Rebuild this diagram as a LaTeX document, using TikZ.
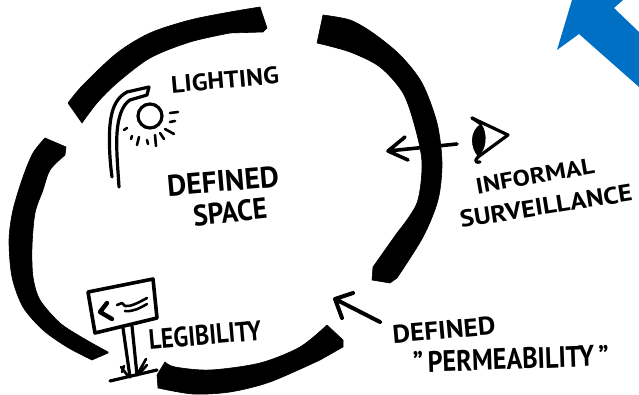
\documentclass[tikz,border=0pt]{standalone}
\usepackage{fontspec}
\setmainfont[Ligatures=ResetAll]{PT Sans}
\usepackage{graphicx}
\definecolor{sigblue}{HTML}{0070C4}
\tikzset{
  ink/.style={draw=black,line width=3.2pt,line cap=round,line join=round},
  thin ink/.style={draw=black,line width=2.6pt,line cap=round,line join=round},
  arrow ink/.style={draw=black,line width=3.6pt,line cap=round,line join=round},
  heavy/.style={fill=black,draw=black,line width=.6pt,line join=round},
  label/.style={inner sep=0pt,outer sep=0pt,font=\bfseries}
}
\newcommand{\fit}[3]{\resizebox{#1pt}{#2pt}{#3}}
\begin{document}
\begin{tikzpicture}[x=1pt,y=-1pt]
\useasboundingbox (0,0) rectangle (639,395);
% blue arrow
\fill[sigblue] (572,0) -- (557,50) -- (579,34) -- (639,87) -- (639,32) -- (614,8) -- (623,0) -- cycle;
% ring segments
\path[heavy] plot[smooth] coordinates {(68,103) (83,85) (117,53) (150,33) (190,20) (230,12) (260,7)}
  -- (267,28) -- (263,32)
  -- plot[smooth] coordinates {(230,33) (190,42) (150,58) (117,83) (97,103) (82,123)} -- cycle;
\path[heavy] plot[smooth] coordinates {(323,15) (350,20) (373,33) (400,55) (422,83) (437,123) (442,163) (438,200) (423,237) (397,278)}
  -- (390,283) -- (372,280) -- (373,267)
  -- plot[smooth] coordinates {(397,233) (417,203) (422,163) (415,127) (403,93) (380,67) (350,52) (317,43)} -- cycle;
\path[heavy] plot[smooth] coordinates {(45,138) (33,153) (23,177) (13,210) (9,240) (12,277) (23,307) (43,330) (67,347) (92,360)}
  -- (108,353)
  -- plot[smooth] coordinates {(108,352) (83,338) (60,323) (40,300) (33,277) (32,247) (35,213) (43,190) (50,170) (65,155)}
  -- (66,147) -- cycle;
\path[heavy] plot[smooth] coordinates {(165,362) (175,367) (210,370) (260,363) (300,347) (327,325)}
  -- (343,340) -- (343,347)
  -- plot[smooth] coordinates {(320,360) (270,382) (230,392) (193,394) (158,388)}
  -- (157,375) -- cycle;
% lamp
\draw[ink] (112,177) .. controls (109,155) and (109,135) .. (110,125) .. controls (112,105) and (118,97) .. (127,92) -- (149,87) -- (147,95)
  -- (130,100) .. controls (122,105) and (118,118) .. (117,133) .. controls (116,150) and (118,170) .. (119,187);
\node[circle,draw=black,line width=3.2pt,minimum size=24pt,inner sep=0pt] (bulb) at (150,116) {};
\draw[thin ink] (170,113) -- (178,112) (170,122) -- (175,121) (165,129) -- (174,134) (160,133) -- (164,139)
  (155,135) -- (156,146) (147,140) -- (148,144) (139,137) -- (137,145) (132,136) -- (131,139) (124,130) -- (127,128);
% sign
\draw[line width=3.6pt,line cap=round,line join=round] (88,292) -- (153,279) -- (157,318) -- (95,333) -- cycle;
\draw[line width=4.4pt,line cap=round,line join=round] (107,303) -- (100,312) -- (112,319);
\draw[thin ink] (117,305) -- (122,303) -- (125,306) .. controls (130,307) and (138,303) .. (147,298);
\draw[thin ink] (125,311) .. controls (133,312) and (140,308) .. (147,304);
\draw[ink] (123,328) -- (130,377) (132,326) -- (137,375);
\draw[ink] (110,381) -- (157,370);
\draw[thin ink] (121,367) -- (128,376) (124,366) -- (122,372) (137,375) -- (146,359) (139,374) -- (147,365);
% eye
\coordinate (eyeback) at (457,144);
\coordinate (eyetip) at (388,151);
\draw[ink] (472,118) -- (508,135) -- (478,157);
\draw[ink] (472,118) -- (481,124);
\draw[ink] (478,157) .. controls (474,161) and (476,163) .. (480,162);
\path[heavy] (481,124) .. controls (469,132) and (471,148) .. (478,156) .. controls (486,150) and (488,134) .. (481,124) -- cycle;
% surveillance arrow
\draw[arrow ink] (eyeback) -- (eyetip) (405,137) -- (eyetip) -- (408,160);
% permeability arrow
\coordinate (permback) at (380,322);
\coordinate (permtip) at (335,299);
\draw[line width=4pt,line cap=round,line join=round] (permback) -- (permtip) (353,293) -- (permtip) -- (342,318);
% labels
\node[label,rotate=5] (lighting) at (225,80) {\fit{108}{17}{LIGHTING}};
\node[label,rotate=5] (defined) at (223,181) {\fit{112}{21}{DEFINED}};
\node[label,rotate=6] (space) at (230,212) {\fit{74}{21}{SPACE}};
\node[label,rotate=5] (legibility) at (205,335) {\fit{113}{20}{LEGIBILITY}};
\node[label,rotate=10] (informal) at (535,176) {\fit{120}{16}{INFORMAL}};
\node[label,rotate=9] (surveillance) at (546,206) {\fit{174}{17}{SURVEILLANCE}};
\node[label,rotate=5] (defined2) at (444,330) {\fit{103}{18}{DEFINED}};
\node[label,rotate=2] (perm) at (511,359) {\fit{196}{21}{"\,PERMEABILITY\,"}};
\end{tikzpicture}
\end{document}
